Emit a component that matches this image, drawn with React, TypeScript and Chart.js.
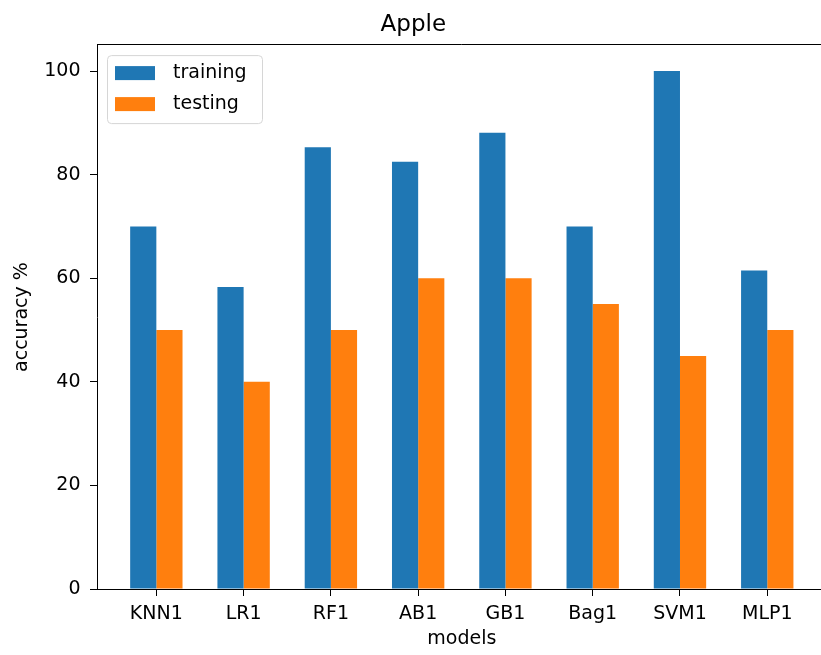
import { useEffect, useRef } from 'react';
import { Chart, registerables } from 'chart.js';

Chart.register(...registerables);

const models = ['KNN1', 'LR1', 'RF1', 'AB1', 'GB1', 'Bag1', 'SVM1', 'MLP1'];
const training = [70, 58.3, 85.3, 82.5, 88.1, 70, 100, 61.5];
const testing = [50, 40, 50, 60, 60, 55, 45, 50];
const yTickValues = [0, 20, 40, 60, 80, 100];
const seriesNames = ['training', 'testing'];
const seriesColors = ['#1f77b4', '#ff7f0e'];
const chartTitle = 'Apple';
const xTitle = 'models';
const yTitle = 'accuracy %';

const FONT = "'DejaVu Sans', sans-serif";

const frameAndLegend = {
  id: 'frameAndLegend',
  afterDraw(chart: any) {
    const { ctx, chartArea } = chart;
    ctx.save();
    ctx.strokeStyle = '#000';
    ctx.lineWidth = 1;
    const ty = Math.round(chartArea.top) - 0.5;
    const rx = Math.round(chartArea.right) - 0.5;
    ctx.beginPath();
    ctx.moveTo(chartArea.left, ty);
    ctx.lineTo(rx, ty);
    ctx.lineTo(rx, chartArea.bottom);
    ctx.stroke();

    // legend
    const x0 = chartArea.left + 10.5;
    const y0 = chartArea.top + 10.5;
    const w = 155;
    const h = 68;
    ctx.beginPath();
    (ctx as any).roundRect(x0, y0, w, h, 4);
    ctx.fillStyle = 'rgba(255,255,255,0.8)';
    ctx.fill();
    ctx.strokeStyle = '#d6d6d6';
    ctx.lineWidth = 1;
    ctx.stroke();
    ctx.font = `19px ${FONT}`;
    ctx.textBaseline = 'middle';
    ctx.textAlign = 'left';
    chart.data.datasets.forEach((ds: any, i: number) => {
      ctx.fillStyle = ds.backgroundColor;
      ctx.fillRect(x0 + 7.5, y0 + 10.5 + 31 * i, 40, 14);
      ctx.fillStyle = '#000';
      ctx.fillText(ds.label, x0 + 65.5, y0 + 17.5 + 31 * i);
    });
    ctx.restore();
  },
};

export default function App() {
  const ref = useRef<HTMLCanvasElement | null>(null);

  useEffect(() => {
    if (!ref.current) return;
    const axisGrid = {
      display: true,
      drawOnChartArea: false,
      drawTicks: true,
      tickLength: 7,
      color: '#000',
      lineWidth: 1,
      offset: false,
    };
    const chart = new Chart(ref.current, {
      type: 'bar',
      data: {
        datasets: [training, testing].map((arr, k) => ({
          label: seriesNames[k],
          data: arr.map((v, i) => ({ x: i, y: v })),
          backgroundColor: seriesColors[k],
          borderWidth: 0,
          categoryPercentage: 0.6,
          barPercentage: 1,
        })),
      },
      options: {
        responsive: false,
        animation: false,
        devicePixelRatio: 1,
        layout: { padding: { left: 0, right: 13.4, top: 0, bottom: 0 } },
        plugins: {
          legend: { display: false },
          tooltip: { enabled: false },
          title: {
            display: true,
            text: chartTitle,
            color: '#000',
            font: { family: FONT, size: 23, weight: 'normal' },
            padding: { top: 11.5, bottom: 6 },
          },
        },
        scales: {
          x: {
            type: 'linear',
            offset: false,
            min: -0.68,
            max: 7.68,
            afterBuildTicks: (a: any) => {
              a.ticks = models.map((_, i) => ({ value: i }));
            },
            afterFit: (s: any) => {
              s.height = 66;
            },
            grid: axisGrid,
            border: { display: true, color: '#000', width: 1 },
            ticks: {
              callback: (v: any) => models[v as number] ?? '',
              autoSkip: false,
              maxRotation: 0,
              padding: 6.6,
              color: '#000',
              font: { family: FONT, size: 19 },
            },
            title: {
              display: true,
              text: xTitle,
              color: '#000',
              font: { family: FONT, size: 19 },
              padding: { top: 0, bottom: 4.2 },
            },
          },
          y: {
            min: 0,
            max: 105,
            afterBuildTicks: (a: any) => {
              a.ticks = yTickValues.map((v) => ({ value: v }));
            },
            afterFit: (s: any) => {
              s.width = 97;
            },
            grid: axisGrid,
            border: { display: true, color: '#000', width: 1 },
            ticks: {
              padding: 9.5,
              color: '#000',
              font: { family: FONT, size: 19 },
            },
            title: {
              display: true,
              text: yTitle,
              color: '#000',
              font: { family: FONT, size: 19 },
              padding: { top: 11, bottom: 0 },
            },
          },
        },
      } as any,
      plugins: [frameAndLegend],
    });
    return () => chart.destroy();
  }, []);

  return (
    <div
      style={{
        position: 'fixed',
        left: 0,
        top: 0,
        width: 821,
        height: 655,
        overflow: 'hidden',
        background: '#fff',
      }}
    >
      <canvas
        ref={ref}
        width={840}
        height={655}
        style={{ display: 'block', width: 840, height: 655 }}
      />
    </div>
  );
}
